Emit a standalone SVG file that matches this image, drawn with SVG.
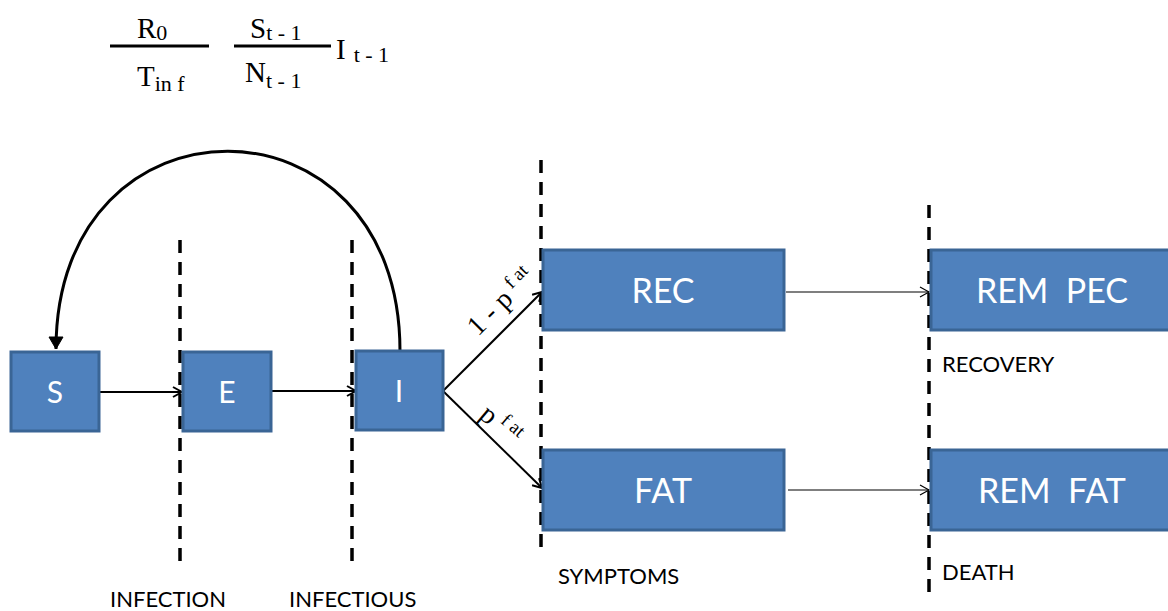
<svg xmlns="http://www.w3.org/2000/svg" width="1168" height="611" viewBox="0 0 1168 611">
<style>
.box{fill:#4f81bd;stroke:#3a6595;stroke-width:3}
.bt{fill:#fff;font-family:Lato,"Open Sans",sans-serif;text-anchor:middle;white-space:pre}
.dash{stroke:#000;stroke-width:3.5;stroke-dasharray:13 9;fill:none}
.lbl{font-family:Lato,"Open Sans",sans-serif;font-size:22px;fill:#000}
.math{font-family:"Liberation Serif",serif;fill:#000}
.c{stroke:#000;fill:none}
</style>
<defs>
<marker id="ah" markerWidth="12" markerHeight="12" refX="10" refY="6" orient="auto" markerUnits="userSpaceOnUse">
<path d="M1,1 L10,6 L1,11" fill="none" stroke="#000" stroke-width="2"/>
</marker>
<marker id="ahs" markerWidth="12" markerHeight="12" refX="10" refY="6" orient="auto" markerUnits="userSpaceOnUse">
<path d="M1,1 L10,6 L1,11" fill="none" stroke="#000" stroke-width="1.2"/>
</marker>
<marker id="ahb" markerWidth="16" markerHeight="16" refX="13" refY="8" orient="auto" markerUnits="userSpaceOnUse">
<path d="M1,1 L13,8 L1,15 Z" fill="#000" stroke="#000" stroke-width="1"/>
</marker>
</defs>
<g id="formula" class="math">
<text x="137" y="38" font-size="29">R<tspan font-size="22" dy="2">0</tspan></text>
<line x1="110" y1="46" x2="209" y2="46" stroke="#000" stroke-width="3"/>
<text x="137" y="86" font-size="29">T<tspan font-size="22" dy="5">in f</tspan></text>
<text x="250" y="38" font-size="29">S<tspan font-size="22" dy="2">t - 1</tspan></text>
<line x1="234" y1="46" x2="331" y2="46" stroke="#000" stroke-width="3"/>
<text x="245" y="82" font-size="29">N<tspan font-size="22" dy="6">t - 1</tspan></text>
<text x="336" y="59" font-size="29">I<tspan font-size="22" dx="8" dy="3">t - 1</tspan></text>
</g>
<g id="dividers">
<line class="dash" x1="180" y1="240" x2="180" y2="568"/>
<line class="dash" x1="352" y1="240" x2="352" y2="568"/>
<line class="dash" x1="541" y1="160" x2="541" y2="556"/>
<line class="dash" x1="929" y1="205" x2="929" y2="592"/>
</g>
<g id="connectors">
<path class="c" stroke-width="3" d="M400,351 C400,85 56,85 56,349" marker-end="url(#ahb)"/>
<line class="c" stroke-width="2" x1="99" y1="392" x2="182" y2="392" marker-end="url(#ah)"/>
<line class="c" stroke-width="2" x1="271" y1="391" x2="356" y2="391" marker-end="url(#ah)"/>
<line class="c" stroke-width="2" x1="443" y1="391" x2="542" y2="292" marker-end="url(#ah)"/>
<line class="c" stroke-width="2" x1="443" y1="391" x2="542" y2="488" marker-end="url(#ah)"/>
<line class="c" stroke-width="1.2" x1="786" y1="292" x2="929" y2="292" marker-end="url(#ahs)"/>
<line class="c" stroke-width="1.2" x1="788" y1="490" x2="929" y2="490" marker-end="url(#ahs)"/>
<text class="math" font-size="28" transform="translate(478,337) rotate(-45)">1 - p<tspan font-size="19" dx="6" dy="-10">f at</tspan></text>
<text class="math" font-size="28" transform="translate(478,417) rotate(40)">p<tspan font-size="19" dx="6" dy="-10">f at</tspan></text>
</g>
<g id="S"><rect class="box" x="11" y="352" width="88" height="79"/><text class="bt" x="55" y="403" font-size="30">S</text></g>
<g id="E"><rect class="box" x="183" y="352" width="88" height="79"/><text class="bt" x="227" y="403" font-size="30">E</text></g>
<g id="I"><rect class="box" x="356" y="351" width="87" height="79"/><text class="bt" x="399" y="402" font-size="30">I</text></g>
<g id="REC"><rect class="box" x="543" y="250" width="241" height="80"/><text class="bt" x="663" y="303" font-size="34">REC</text></g>
<g id="REM_PEC"><rect class="box" x="931" y="250" width="240" height="80"/><text class="bt" x="1052" y="303" font-size="34">REM  PEC</text></g>
<g id="FAT"><rect class="box" x="543" y="450" width="241" height="80"/><text class="bt" x="663" y="503" font-size="34">FAT</text></g>
<g id="REM_FAT"><rect class="box" x="931" y="450" width="240" height="80"/><text class="bt" x="1052" y="503" font-size="34">REM  FAT</text></g>
<g id="labels">
<text class="lbl" x="110" y="607">INFECTION</text>
<text class="lbl" x="289" y="607">INFECTIOUS</text>
<text class="lbl" x="558" y="584">SYMPTOMS</text>
<text class="lbl" x="942" y="372">RECOVERY</text>
<text class="lbl" x="942" y="580">DEATH</text>
</g>
</svg>
